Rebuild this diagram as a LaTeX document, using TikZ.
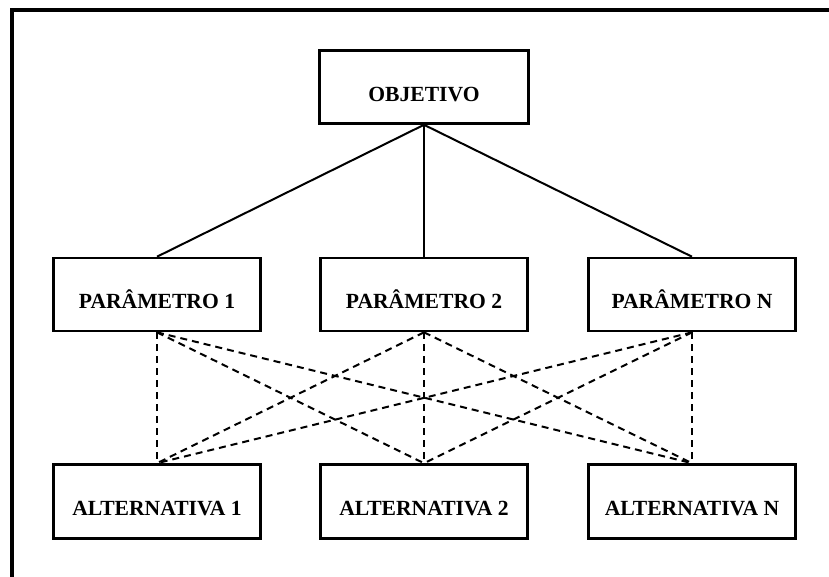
\documentclass[tikz,border=0pt]{standalone}
\usepackage{fontspec}
\setmainfont{Liberation Serif}
\begin{document}
\begin{tikzpicture}[x=1pt,y=-1pt,
  boxnode/.style={draw, line width=2.6pt, minimum width=207pt, minimum height=73pt,
    inner sep=0pt, text height=28pt, text depth=0pt,
    font=\fontsize{21.6}{25}\selectfont\bfseries},
  solidlink/.style={line width=2pt},
  dashlink/.style={line width=2pt, dash pattern=on 7pt off 5pt}]
\useasboundingbox (0,0) rectangle (829,576);
\draw[line width=4pt] (12,578) -- (12,10) -- (831,10);
\node[boxnode, minimum width=209pt] (obj) at (424,87) {OBJETIVO};
\node[boxnode] (p1) at (157,294.5) {PARÂMETRO 1};
\node[boxnode] (p2) at (424,294.5) {PARÂMETRO 2};
\node[boxnode] (pn) at (692,294.5) {PARÂMETRO N};
\node[boxnode, minimum height=74pt] (a1) at (157,501.5) {ALTERNATIVA 1};
\node[boxnode, minimum height=74pt] (a2) at (424,501.5) {ALTERNATIVA 2};
\node[boxnode, minimum height=74pt] (an) at (692,501.5) {ALTERNATIVA N};
\draw[solidlink] (obj.south) -- (p1.north);
\draw[solidlink] (obj.south) -- (p2.north);
\draw[solidlink] (obj.south) -- (pn.north);
\foreach \p in {p1,p2,pn}{
  \foreach \a in {a1,a2,an}{
    \draw[dashlink] (\p.south) -- (\a.north);
  }
}
\end{tikzpicture}
\end{document}
